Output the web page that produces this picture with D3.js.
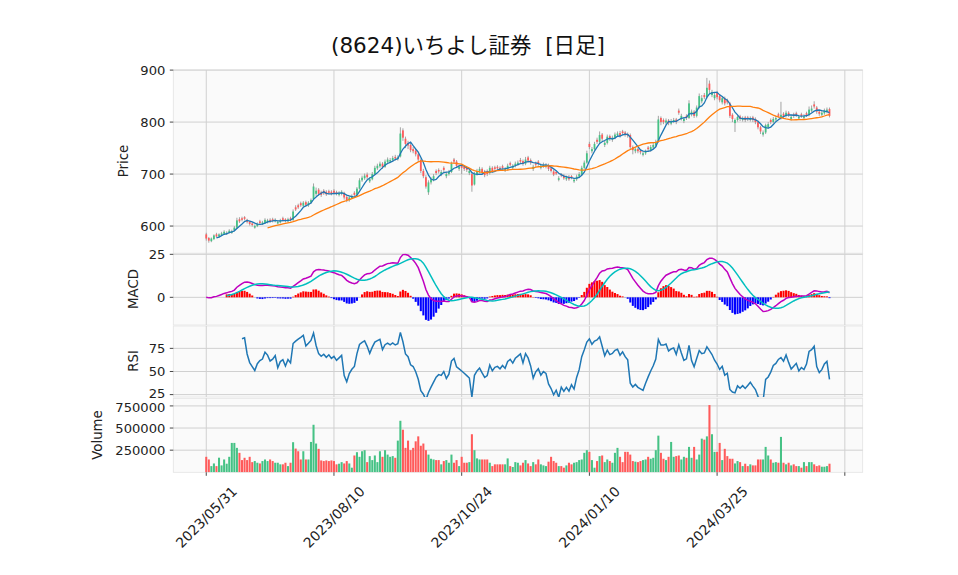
<!DOCTYPE html>
<html><head><meta charset="utf-8">
<script src="https://cdn.jsdelivr.net/npm/d3@7"></script>
<style>body{margin:0;background:#fff}</style>
</head><body><svg id="c" width="958" height="575"></svg>
<script>
const title = "(8624)いちよし証券  [日足]";
const tickIndex = [0,50,100,150,200,250];
const tickLabels = ["2023/05/31","2023/08/10","2023/10/24","2024/01/10","2024/03/25",""];
const priceTicks = [600,700,800,900];
const macdTicks = [0,25];
const rsiTicks = [25,50,75];
const volTicks = [250000,500000,750000];

const opens = [584,577,571,575,584,580,583,585,585,588,
587,592,597,613,615,617,612,608,605,597,
600,609,604,606,607,612,613,609,605,607,
615,613,609,615,612,636,640,644,639,646,
640,645,652,662,670,665,668,666,667,666,
668,665,660,662,664,656,650,654,664,660,
672,688,692,699,686,690,700,711,715,720,
714,723,724,727,733,729,734,784,768,760,
756,748,745,738,727,706,694,665,684,690,
706,708,700,712,696,700,704,728,724,710,
716,714,712,702,700,680,700,705,710,705,
706,702,712,713,714,712,715,707,710,721,
712,716,719,727,725,720,732,727,710,721,
724,712,715,714,717,711,705,704,689,700,
697,690,695,696,686,690,695,699,712,722,
758,744,748,766,762,776,756,760,773,766,
770,775,779,782,780,777,775,752,744,748,
745,737,740,751,746,751,755,762,808,804,
799,803,797,801,805,822,806,802,812,808,
815,820,812,828,840,852,848,874,852,846,
856,850,838,846,842,836,814,798,804,811,
804,809,809,804,809,806,800,790,776,780,
790,804,800,805,815,808,816,812,818,806,
815,817,807,815,808,817,814,822,834,828,
820,814,817,820,825];
const highs = [587,579,578,584,587,586,589,592,590,594,
593,600,616,617,618,619,614,610,607,603,
607,612,610,615,614,615,616,615,611,614,
618,615,616,618,632,640,643,647,648,649,
648,653,682,674,673,668,671,669,670,669,
671,668,667,669,666,659,658,661,667,675,
692,697,701,703,694,704,716,720,724,723,
728,732,731,735,737,736,790,788,772,764,
760,752,749,742,730,710,698,688,694,700,
709,711,708,715,704,708,724,731,727,718,
719,717,715,710,703,704,710,714,713,708,
709,716,715,716,717,715,718,713,720,724,
719,724,726,731,728,733,735,730,718,724,
727,720,722,721,720,714,708,706,696,702,
700,697,698,698,692,699,704,716,726,745,
762,752,762,770,782,779,764,776,776,774,
780,782,783,785,783,780,778,755,751,751,
748,743,747,754,756,760,766,812,811,807,
807,806,806,808,808,826,816,810,815,842,
824,823,832,855,852,856,885,880,862,856,
860,853,850,849,845,839,817,807,813,814,
811,812,812,811,812,809,803,793,784,797,
800,807,810,812,818,839,819,822,821,814,
818,820,814,818,815,820,830,832,840,831,
823,822,826,828,828];
const lows = [572,568,569,573,578,578,581,583,583,586,
585,590,595,606,609,611,605,601,599,595,
598,603,602,604,605,606,607,607,603,605,
609,607,607,609,610,629,633,637,636,638,
637,643,650,658,658,656,660,658,661,659,
661,659,657,659,651,646,647,652,657,657,
670,685,689,690,683,688,698,708,712,710,
712,720,721,724,726,726,732,764,750,748,
742,740,734,724,702,692,672,660,680,686,
698,701,696,704,692,697,702,720,712,706,
700,706,704,698,666,678,697,702,700,694,
696,699,703,707,708,706,709,704,707,715,
709,713,716,720,716,717,722,718,706,714,
716,709,712,711,706,703,696,698,686,694,
689,687,687,690,683,687,692,697,710,720,
748,740,745,758,759,763,752,757,764,762,
767,772,770,775,772,770,748,738,740,740,
738,734,737,744,743,748,752,760,794,796,
795,794,794,798,796,814,803,798,804,806,
811,808,809,826,836,844,845,856,848,842,
844,838,834,832,834,808,800,781,801,802,
801,800,802,801,800,796,786,777,772,777,
787,796,797,802,808,805,808,809,810,803,
808,810,804,808,805,810,811,819,826,816,
812,811,814,817,809];
const closes = [576,572,576,582,580,584,586,589,587,591,
590,597,611,609,612,614,608,604,602,600,
604,606,607,612,611,609,610,612,608,611,
612,610,613,612,628,632,636,640,645,641,
645,650,676,668,662,660,663,661,664,662,
664,662,664,666,655,650,655,658,660,672,
688,693,697,694,690,700,712,716,720,714,
724,728,727,731,730,732,778,770,758,755,
746,744,738,728,706,696,676,684,690,696,
702,705,704,708,700,704,720,724,716,714,
712,710,708,706,678,700,706,710,704,698,
700,712,706,710,711,709,712,710,716,718,
716,720,722,724,720,728,726,722,714,718,
720,716,718,717,710,706,699,701,692,697,
692,694,690,693,689,695,700,712,722,740,
752,748,758,762,775,768,760,772,768,770,
776,778,774,779,776,774,752,746,748,744,
742,740,744,748,752,756,762,805,800,800,
803,798,802,804,800,818,812,806,808,836,
820,812,828,850,846,848,866,862,858,852,
848,842,846,836,838,812,806,804,810,806,
808,804,806,808,804,800,790,782,780,794,
796,800,806,808,812,814,812,818,814,810,
812,814,810,812,811,814,824,826,830,820,
816,818,822,824,812];
const volumes = [175000,145000,70000,100000,70000,165000,78000,145000,97000,175000,
332000,332000,276000,220000,138000,164000,138000,175000,115000,127000,
108000,100000,127000,145000,127000,145000,127000,108000,108000,90000,
90000,108000,70000,108000,340000,268000,238000,145000,238000,145000,
145000,343000,537000,325000,265000,134000,127000,134000,127000,134000,
127000,90000,97000,115000,100000,127000,100000,52000,190000,227000,
175000,238000,250000,115000,183000,138000,190000,115000,238000,175000,
250000,200000,175000,183000,164000,358000,582000,481000,276000,358000,
250000,276000,350000,406000,300000,325000,250000,200000,153000,145000,
138000,138000,90000,127000,138000,108000,200000,108000,138000,70000,
175000,108000,108000,115000,430000,250000,157000,145000,145000,145000,
145000,108000,70000,90000,90000,90000,90000,90000,157000,70000,
60000,115000,108000,78000,108000,138000,100000,70000,115000,90000,
145000,90000,78000,70000,120000,175000,127000,108000,70000,70000,
52000,78000,108000,90000,108000,115000,138000,145000,220000,250000,
231000,138000,52000,127000,183000,190000,115000,145000,127000,108000,
220000,276000,175000,115000,231000,231000,200000,127000,120000,115000,
127000,138000,145000,175000,153000,164000,250000,414000,220000,153000,
138000,175000,343000,175000,183000,190000,145000,175000,164000,287000,
164000,287000,145000,200000,380000,369000,406000,760000,430000,231000,
231000,332000,138000,265000,183000,153000,153000,100000,127000,115000,
70000,97000,70000,90000,78000,78000,145000,145000,145000,287000,
190000,145000,108000,115000,108000,400000,108000,90000,108000,78000,
90000,70000,70000,52000,115000,70000,115000,115000,90000,70000,
78000,63000,63000,70000,97000];

// ---- indicators derived from closes ----
function sma(a,n){return a.map((v,i)=> i<n-1?null: d3.mean(a.slice(i-n+1,i+1)));}
function ema(a,span){const k=2/(span+1);const out=[];a.forEach((v,i)=>{out.push(i===0?v:k*v+(1-k)*out[i-1]);});return out;}
function ewmAdj(a,com,start){const al=1/(1+com);const out=a.map(()=>null);let num=0,den=0;
  for(let i=start;i<a.length;i++){num=a[i]+(1-al)*num;den=1+(1-al)*den;out[i]=num/den;}return out;}
const ma5 = sma(closes,5), ma25 = sma(closes,25);
const e12 = ema(closes,12), e26 = ema(closes,26);
const macd = e12.map((v,i)=>v-e26[i]);
const signal = sma(macd,9);
const hist = macd.map((v,i)=> signal[i]==null?null:v-signal[i]);
const diffs = closes.map((v,i)=> i===0?0:v-closes[i-1]);
const gains = ewmAdj(diffs.map(d=>Math.max(d,0)),6.5,1);
const losses = ewmAdj(diffs.map(d=>Math.max(-d,0)),6.5,1);
const rsi = closes.map((v,i)=> i<14?null: 100*gains[i]/(gains[i]+losses[i]));

const svg = d3.select("#c");
const L=173.3, R=862.7;
const x = d3.scaleLinear().domain([-12.9,257]).range([L,R]);
const step = x(1)-x(0);
const panels = {
  price:{top:70,bottom:253.3,domain:[547.6,900.2]},
  macd:{top:253.3,bottom:325,domain:[-16.1,25.6]},
  rsi:{top:326,bottom:397,domain:[22.4,99.2]},
  vol:{top:398.3,bottom:472.3,domain:[0,836000]}
};
const ys={};
const font = "DejaVu Sans, Liberation Sans, sans-serif";
Object.entries(panels).forEach(([k,p])=>{
  ys[k]=d3.scaleLinear().domain(p.domain).range([p.bottom,p.top]);
  svg.append("rect").attr("x",L).attr("y",p.top).attr("width",R-L).attr("height",p.bottom-p.top)
    .attr("fill","#fafafa").attr("stroke","#e3e3e3").attr("stroke-width",0.8);
  svg.append("clipPath").attr("id","clip-"+k).append("rect").attr("x",L).attr("y",p.top).attr("width",R-L).attr("height",p.bottom-p.top);
  svg.append("g").selectAll("line").data(tickIndex).join("line")
    .attr("x1",d=>x(d)).attr("x2",d=>x(d)).attr("y1",p.top).attr("y2",p.bottom)
    .attr("stroke","#d0d0d0").attr("stroke-width",1);
});
function yAxis(k,ticks,nudge){
  const y=ys[k];
  const g=svg.append("g");
  g.selectAll("line.g").data(ticks).join("line").attr("class","g")
    .attr("x1",L).attr("x2",R).attr("y1",d=>y(d)).attr("y2",d=>y(d)).attr("stroke","#d0d0d0").attr("stroke-width",1);
  g.selectAll("line.t").data(ticks).join("line").attr("class","t")
    .attr("x1",L-3.5).attr("x2",L).attr("y1",d=>y(d)).attr("y2",d=>y(d)).attr("stroke","#333").attr("stroke-width",0.9);
  g.selectAll("text").data(ticks).join("text")
    .attr("x",L-8).attr("y",d=>y(d)+((nudge&&nudge[d])||0)).attr("dy","0.35em").attr("text-anchor","end")
    .attr("font-family",font).attr("font-size","13.1px").attr("fill","#222").text(d=>d);
}
yAxis("price",priceTicks); yAxis("macd",macdTicks); yAxis("rsi",rsiTicks,{25:-1.5}); yAxis("vol",volTicks,{750000:1.5});

const up="#45c285", down="#ff5a5a";
const cg = svg.append("g").attr("clip-path","url(#clip-price)");
const yp = ys.price;
const idx = d3.range(closes.length);
cg.selectAll("line").data(idx).join("line")
  .attr("x1",i=>x(i)).attr("x2",i=>x(i)).attr("y1",i=>yp(highs[i])).attr("y2",i=>yp(lows[i]))
  .attr("stroke","#9a9a9a").attr("stroke-width",0.9);
const bw = step*0.7;
cg.selectAll("rect").data(idx).join("rect")
  .attr("x",i=>x(i)-bw/2).attr("width",bw)
  .attr("y",i=>yp(Math.max(opens[i],closes[i])))
  .attr("height",i=>Math.max(0.8,Math.abs(yp(opens[i])-yp(closes[i]))))
  .attr("fill",i=>closes[i]>=opens[i]?up:down);
function linePath(arr,yk){return d3.line().defined(d=>d!=null).x((d,i)=>x(i)).y(d=>ys[yk](d))(arr);}
cg.append("path").attr("d",linePath(ma5,"price")).attr("fill","none").attr("stroke","#1f77b4").attr("stroke-width",1.3);
cg.append("path").attr("d",linePath(ma25,"price")).attr("fill","none").attr("stroke","#ff7f0e").attr("stroke-width",1.3);

const mg = svg.append("g").attr("clip-path","url(#clip-macd)");
const ym = ys.macd;
const hw = step*0.8;
mg.selectAll("rect").data(idx.filter(i=>hist[i]!=null)).join("rect")
  .attr("x",i=>x(i)-hw/2).attr("width",hw)
  .attr("y",i=>ym(Math.max(0,hist[i]))).attr("height",i=>Math.abs(ym(hist[i])-ym(0)))
  .attr("fill",i=>hist[i]>=0?"#ff0000":"#0000ff");
mg.append("path").attr("d",linePath(macd,"macd")).attr("fill","none").attr("stroke","#bf00bf").attr("stroke-width",1.5);
mg.append("path").attr("d",linePath(signal,"macd")).attr("fill","none").attr("stroke","#00bfbf").attr("stroke-width",1.5);

const rg = svg.append("g").attr("clip-path","url(#clip-rsi)");
rg.append("path").attr("d",linePath(rsi,"rsi")).attr("fill","none").attr("stroke","#1f77b4").attr("stroke-width",1.5);

const vg = svg.append("g").attr("clip-path","url(#clip-vol)");
const yv = ys.vol;
vg.selectAll("rect").data(idx).join("rect")
  .attr("x",i=>x(i)-hw/2).attr("width",hw)
  .attr("y",i=>yv(volumes[i])).attr("height",i=>yv(0)-yv(volumes[i]))
  .attr("fill",i=>closes[i]>=opens[i]?up:down);

const xb = panels.vol.bottom;
svg.append("g").selectAll("line").data(tickIndex).join("line")
  .attr("x1",d=>x(d)).attr("x2",d=>x(d)).attr("y1",xb).attr("y2",xb+3.5).attr("stroke","#333").attr("stroke-width",0.9);
svg.append("g").selectAll("text").data(tickIndex.map((d,i)=>[d,tickLabels[i]])).join("text")
  .attr("transform",d=>`translate(${x(d[0])},517) rotate(-45)`)
  .attr("text-anchor","middle").attr("dy","0.36em")
  .attr("font-family",font).attr("font-size","13.8px").attr("fill","#222").text(d=>d[1]);

function ylab(t,cx,cy){svg.append("text").attr("transform",`translate(${cx},${cy}) rotate(-90)`).attr("text-anchor","middle").attr("dy","0.36em")
  .attr("font-family",font).attr("font-size","13.3px").attr("fill","#222").text(t);}
ylab("Price",123,161); ylab("MACD",133,289); ylab("RSI",133,361); ylab("Volume",97,435);

svg.append("text").attr("x",468).attr("y",45).attr("dy","0.36em").attr("text-anchor","middle")
  .style("white-space","pre").attr("xml:space","preserve")
  .attr("font-family","DejaVu Sans, 'Noto Sans CJK JP', sans-serif").attr("font-size","21.5px").attr("fill","#111").text(title);
</script></body></html>
